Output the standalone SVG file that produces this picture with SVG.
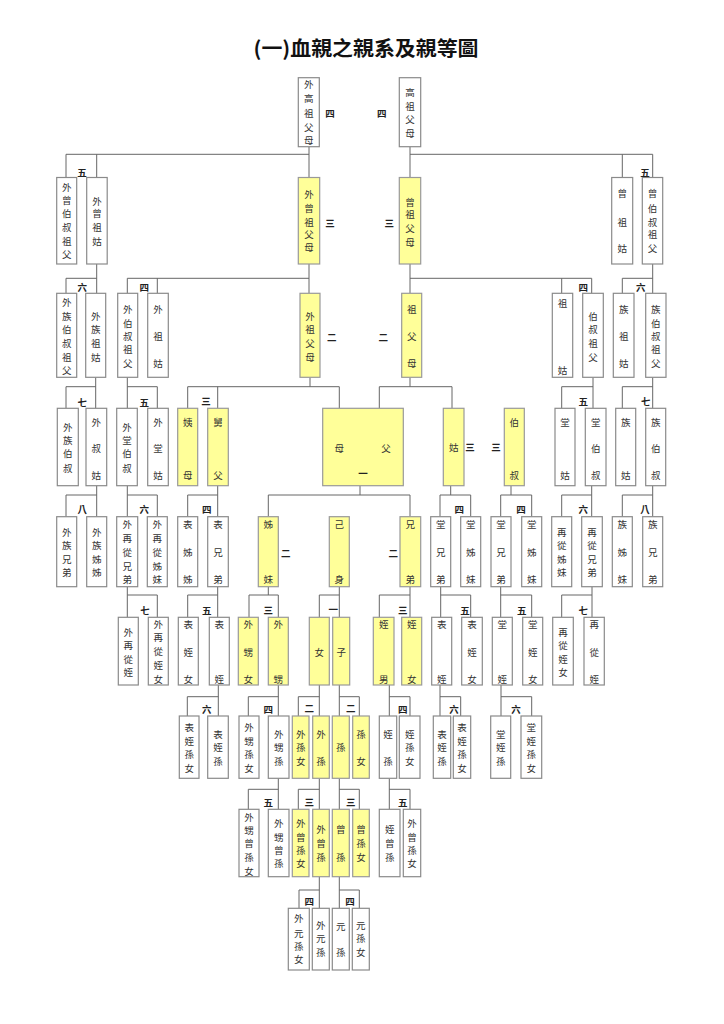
<svg xmlns="http://www.w3.org/2000/svg" width="724" height="1024" viewBox="0 0 724 1024">
<style>
.b{fill:#fff;stroke:#8a8a8a;stroke-width:1.2}
.y{fill:#ffff99;stroke:#999;stroke-width:1.2}
.t{font-family:"Noto Sans CJK TC","Noto Sans CJK SC",sans-serif;font-size:9.5px;fill:#333;text-anchor:middle;dominant-baseline:central}
.n{font-family:"Noto Sans CJK TC","Noto Sans CJK SC",sans-serif;font-size:9.5px;font-weight:bold;fill:#222;text-anchor:middle;dominant-baseline:central}
.c{stroke:#666;stroke-width:1;fill:none}
.title{font-family:"Noto Sans CJK TC","Noto Sans CJK SC",sans-serif;font-size:20px;font-weight:bold;fill:#111;text-anchor:middle;dominant-baseline:central}
</style>
<rect width="724" height="1024" fill="#fff"/>
<text class="title" x="366" y="47" textLength="225" lengthAdjust="spacingAndGlyphs">(一)血親之親系及親等圖</text>
<g id="connectors">
<path class="c" d="M309,146.7V177.5 M66,177.5V154.3H309 M96.7,154.3V177.5 M410,146.7V177.5 M410,154.3H652.7V177.5 M622.3,154.3V177.5
M96.7,264V293.3 M66,293.3V278.3H96.7 M309,264V293.3 M127.3,293.3V278.3H309 M157.3,278.3V293.3 M410,264V293.3 M410,278.3H591.7V293.3 M561.7,278.3V293.3 M652.7,264V293.3 M622.3,293.3V278.3H652.7
M95.7,377.3V408.3 M66,408.3V386.7H95.7 M127.3,377.3V408.3 M127.3,386.7H157.3V408.3 M310,377.3V386.7 M187.7,408.3V386.7H339.3V408.3 M217.7,386.7V408.3 M410,377.3V386.7 M379.3,408.3V386.7H452V408.3 M593,377.3V408.3 M561.7,408.3V386.7H593 M652.7,377.3V408.3 M622.3,408.3V386.7H652.7
M96.7,485.7V516.7 M66,516.7V495H96.7 M127.3,485.7V516.7 M127.3,495H157.3V516.7 M217.7,485.7V516.7 M187.7,516.7V495H217.7 M360,485.7V495 M268.3,516.7V495H410V516.7 M450.7,485.7V495 M440,516.7V495H470.7V516.7 M511,485.7V495 M500.7,516.7V495H531.7V516.7 M591.7,485.7V516.7 M561.7,516.7V495H591.7 M652.7,485.7V516.7 M622.3,516.7V495H652.7
M127.3,586.7V617.3 M127.3,595H157.3V617.3 M217.7,586.7V617.3 M187.7,617.3V595H217.7 M268.3,586.7V595 M249,617.3V595H278.3V617.3 M339.3,586.7V617.3 M319.3,617.3V595H339.3 M410,586.7V617.3 M379.3,617.3V595H410 M440.7,586.7V617.3 M440.7,595H470.7V617.3 M500.7,586.7V617.3 M500.7,595H531.7V617.3 M592,586.7V617.3 M561.7,617.3V595H592
M218.3,685V716 M187.3,716V696.7H218.3 M278.3,685V716 M248.3,716V696.7H278.3 M319.3,685V716 M298.3,716V696.7H319.3 M339.3,685V716 M339.3,696.7H359.3V716 M389.3,685V716 M389.3,696.7H410V716 M440,685V716 M440,696.7H460.7V716 M501,685V716 M501,696.7H531.7V716
M278.3,778.3V809.3 M248.3,809.3V789.3H278.3 M319.3,778.3V809.3 M298.3,809.3V789.3H319.3 M339.3,778.3V809.3 M339.3,789.3H359.3V809.3 M389.3,778.3V809.3 M389.3,789.3H410V809.3
M319.3,876.7V908.3 M299,908.3V890H319.3 M339.3,876.7V908.3 M339.3,890H359.3V908.3"/>
</g>
<g id="n1"><rect class="b" x="298.3" y="77.7" width="21" height="69"/><text class="t"><tspan x="308.8" y="84.3">外</tspan><tspan x="308.8" y="98.3">高</tspan><tspan x="308.8" y="112.7">祖</tspan><tspan x="308.8" y="126.7">父</tspan><tspan x="308.8" y="140">母</tspan></text></g>
<g id="n2"><rect class="b" x="399.3" y="77.7" width="21.4" height="69"/><text class="t"><tspan x="410" y="91.7">高</tspan><tspan x="410" y="106">祖</tspan><tspan x="410" y="119.3">父</tspan><tspan x="410" y="132.7">母</tspan></text></g>
<g id="n3"><rect class="b" x="56.7" y="177.5" width="20" height="86.5"/><text class="t"><tspan x="66.7" y="186.7">外</tspan><tspan x="66.7" y="200">曾</tspan><tspan x="66.7" y="213.3">伯</tspan><tspan x="66.7" y="226.7">叔</tspan><tspan x="66.7" y="241">祖</tspan><tspan x="66.7" y="254">父</tspan></text></g>
<g id="n4"><rect class="b" x="86.7" y="177.5" width="20.5" height="86.5"/><text class="t"><tspan x="96.9" y="200.7">外</tspan><tspan x="96.9" y="213.3">曾</tspan><tspan x="96.9" y="227.3">祖</tspan><tspan x="96.9" y="241">姑</tspan></text></g>
<g id="n5"><rect class="y" x="298.3" y="177.5" width="21.4" height="86.5"/><text class="t"><tspan x="309" y="194">外</tspan><tspan x="309" y="208.3">曾</tspan><tspan x="309" y="221.7">祖</tspan><tspan x="309" y="234.3">父</tspan><tspan x="309" y="246.7">母</tspan></text></g>
<g id="n6"><rect class="y" x="399.3" y="177.5" width="21.4" height="86.5"/><text class="t"><tspan x="410" y="201.7">曾</tspan><tspan x="410" y="214">祖</tspan><tspan x="410" y="228.3">父</tspan><tspan x="410" y="241.7">母</tspan></text></g>
<g id="n7"><rect class="b" x="611.7" y="177.5" width="21" height="86.5"/><text class="t"><tspan x="622.2" y="192.7">曾</tspan><tspan x="622.2" y="221.7">祖</tspan><tspan x="622.2" y="248.3">姑</tspan></text></g>
<g id="n8"><rect class="b" x="642.3" y="177.5" width="20.4" height="86.5"/><text class="t"><tspan x="652.5" y="193.3">曾</tspan><tspan x="652.5" y="208.3">伯</tspan><tspan x="652.5" y="221.7">叔</tspan><tspan x="652.5" y="234">祖</tspan><tspan x="652.5" y="248.3">父</tspan></text></g>
<g id="n9"><rect class="b" x="56.7" y="293.3" width="20" height="84"/><text class="t"><tspan x="66.7" y="302.3">外</tspan><tspan x="66.7" y="315.7">族</tspan><tspan x="66.7" y="329">伯</tspan><tspan x="66.7" y="342.7">叔</tspan><tspan x="66.7" y="356.7">祖</tspan><tspan x="66.7" y="370">父</tspan></text></g>
<g id="n10"><rect class="b" x="85.7" y="293.3" width="20" height="84"/><text class="t"><tspan x="95.7" y="316">外</tspan><tspan x="95.7" y="329.3">族</tspan><tspan x="95.7" y="342.7">祖</tspan><tspan x="95.7" y="356.7">姑</tspan></text></g>
<g id="n11"><rect class="b" x="117.7" y="293.3" width="20" height="84"/><text class="t"><tspan x="127.7" y="309.3">外</tspan><tspan x="127.7" y="322.7">伯</tspan><tspan x="127.7" y="336">叔</tspan><tspan x="127.7" y="349.3">祖</tspan><tspan x="127.7" y="363.3">父</tspan></text></g>
<g id="n12"><rect class="b" x="147.7" y="293.3" width="20.6" height="84"/><text class="t"><tspan x="158" y="309.3">外</tspan><tspan x="158" y="336">祖</tspan><tspan x="158" y="363.3">姑</tspan></text></g>
<g id="n13"><rect class="y" x="300" y="293.3" width="20" height="84"/><text class="t"><tspan x="310" y="316">外</tspan><tspan x="310" y="329.3">祖</tspan><tspan x="310" y="342.7">父</tspan><tspan x="310" y="356.7">母</tspan></text></g>
<g id="n14"><rect class="y" x="401.7" y="293.3" width="20" height="84"/><text class="t"><tspan x="411.7" y="309.3">祖</tspan><tspan x="411.7" y="336">父</tspan><tspan x="411.7" y="363.3">母</tspan></text></g>
<g id="n15"><rect class="b" x="552.3" y="293.3" width="20.4" height="84"/><text class="t"><tspan x="562.5" y="302.7">祖</tspan><tspan x="562.5" y="370">姑</tspan></text></g>
<g id="n16"><rect class="b" x="582.7" y="293.3" width="20.6" height="84"/><text class="t"><tspan x="593" y="316">伯</tspan><tspan x="593" y="329.3">叔</tspan><tspan x="593" y="342.7">祖</tspan><tspan x="593" y="356.7">父</tspan></text></g>
<g id="n17"><rect class="b" x="613.3" y="293.3" width="20.7" height="84"/><text class="t"><tspan x="623.7" y="309.3">族</tspan><tspan x="623.7" y="336">祖</tspan><tspan x="623.7" y="363.3">姑</tspan></text></g>
<g id="n18"><rect class="b" x="645.7" y="293.3" width="20.3" height="84"/><text class="t"><tspan x="655.8" y="309.3">族</tspan><tspan x="655.8" y="322.7">伯</tspan><tspan x="655.8" y="336">叔</tspan><tspan x="655.8" y="349.3">祖</tspan><tspan x="655.8" y="363.3">父</tspan></text></g>
<g id="n19"><rect class="b" x="57.3" y="408.3" width="21" height="77.4"/><text class="t"><tspan x="67.8" y="426.7">外</tspan><tspan x="67.8" y="440">族</tspan><tspan x="67.8" y="453.3">伯</tspan><tspan x="67.8" y="467.7">叔</tspan></text></g>
<g id="n20"><rect class="b" x="86" y="408.3" width="20.7" height="77.4"/><text class="t"><tspan x="96.3" y="421.7">外</tspan><tspan x="96.3" y="448.3">叔</tspan><tspan x="96.3" y="475">姑</tspan></text></g>
<g id="n21"><rect class="b" x="116.7" y="408.3" width="20.6" height="77.4"/><text class="t"><tspan x="127" y="426.7">外</tspan><tspan x="127" y="440">堂</tspan><tspan x="127" y="453.3">伯</tspan><tspan x="127" y="467.7">叔</tspan></text></g>
<g id="n22"><rect class="b" x="147.7" y="408.3" width="20.6" height="77.4"/><text class="t"><tspan x="158" y="421.7">外</tspan><tspan x="158" y="448.3">堂</tspan><tspan x="158" y="475">姑</tspan></text></g>
<g id="n23"><rect class="y" x="177.7" y="408.3" width="20" height="77.4"/><text class="t"><tspan x="187.7" y="421.7">姨</tspan><tspan x="187.7" y="475">母</tspan></text></g>
<g id="n24"><rect class="y" x="207.7" y="408.3" width="20.6" height="77.4"/><text class="t"><tspan x="218" y="421.7">舅</tspan><tspan x="218" y="475">父</tspan></text></g>
<g id="n25"><rect class="y" x="322.7" y="408.3" width="80.6" height="77.4"/><text class="t"><tspan x="339.3" y="447.7">母</tspan><tspan x="386" y="447.7">父</tspan></text></g>
<g id="n26"><rect class="y" x="443.3" y="408.3" width="20.7" height="77.4"/><text class="t"><tspan x="453.7" y="447.3">姑</tspan></text></g>
<g id="n27"><rect class="y" x="504.3" y="408.3" width="20" height="77.4"/><text class="t"><tspan x="514.3" y="421.7">伯</tspan><tspan x="514.3" y="475">叔</tspan></text></g>
<g id="n28"><rect class="b" x="555" y="408.3" width="20" height="77.4"/><text class="t"><tspan x="565" y="421.7">堂</tspan><tspan x="565" y="475">姑</tspan></text></g>
<g id="n29"><rect class="b" x="585.3" y="408.3" width="20.7" height="77.4"/><text class="t"><tspan x="595.7" y="421.7">堂</tspan><tspan x="595.7" y="448.3">伯</tspan><tspan x="595.7" y="475">叔</tspan></text></g>
<g id="n30"><rect class="b" x="615.7" y="408.3" width="20" height="77.4"/><text class="t"><tspan x="625.7" y="421.7">族</tspan><tspan x="625.7" y="475">姑</tspan></text></g>
<g id="n31"><rect class="b" x="645.7" y="408.3" width="20" height="77.4"/><text class="t"><tspan x="655.7" y="421.7">族</tspan><tspan x="655.7" y="448.3">伯</tspan><tspan x="655.7" y="475">叔</tspan></text></g>
<g id="n32"><rect class="b" x="56.7" y="516.7" width="20" height="70"/><text class="t"><tspan x="66.7" y="531.7">外</tspan><tspan x="66.7" y="545">族</tspan><tspan x="66.7" y="559">兄</tspan><tspan x="66.7" y="572.3">弟</tspan></text></g>
<g id="n33"><rect class="b" x="86.7" y="516.7" width="20" height="70"/><text class="t"><tspan x="96.7" y="531.7">外</tspan><tspan x="96.7" y="545">族</tspan><tspan x="96.7" y="559">姊</tspan><tspan x="96.7" y="572.3">姊</tspan></text></g>
<g id="n34"><rect class="b" x="116.7" y="516.7" width="21" height="70"/><text class="t"><tspan x="127.2" y="524">外</tspan><tspan x="127.2" y="538.3">再</tspan><tspan x="127.2" y="551.7">從</tspan><tspan x="127.2" y="565.7">兄</tspan><tspan x="127.2" y="579">弟</tspan></text></g>
<g id="n35"><rect class="b" x="147.3" y="516.7" width="20" height="70"/><text class="t"><tspan x="157.3" y="524">外</tspan><tspan x="157.3" y="538.3">再</tspan><tspan x="157.3" y="551.7">從</tspan><tspan x="157.3" y="565.7">姊</tspan><tspan x="157.3" y="579">妹</tspan></text></g>
<g id="n36"><rect class="b" x="177.7" y="516.7" width="20" height="70"/><text class="t"><tspan x="187.7" y="524">表</tspan><tspan x="187.7" y="551.7">姊</tspan><tspan x="187.7" y="579">姊</tspan></text></g>
<g id="n37"><rect class="b" x="207.7" y="516.7" width="20.6" height="70"/><text class="t"><tspan x="218" y="524">表</tspan><tspan x="218" y="551.7">兄</tspan><tspan x="218" y="579">弟</tspan></text></g>
<g id="n38"><rect class="y" x="258.3" y="516.7" width="20" height="70"/><text class="t"><tspan x="268.3" y="524">姊</tspan><tspan x="268.3" y="579">妹</tspan></text></g>
<g id="n39"><rect class="y" x="329.3" y="516.7" width="20" height="70"/><text class="t"><tspan x="339.3" y="524">己</tspan><tspan x="339.3" y="579">身</tspan></text></g>
<g id="n40"><rect class="y" x="400" y="516.7" width="20.7" height="70"/><text class="t"><tspan x="410.3" y="524">兄</tspan><tspan x="410.3" y="579">弟</tspan></text></g>
<g id="n41"><rect class="b" x="430.7" y="516.7" width="20" height="70"/><text class="t"><tspan x="440.7" y="524">堂</tspan><tspan x="440.7" y="551.7">兄</tspan><tspan x="440.7" y="579">弟</tspan></text></g>
<g id="n42"><rect class="b" x="460.7" y="516.7" width="20" height="70"/><text class="t"><tspan x="470.7" y="524">堂</tspan><tspan x="470.7" y="551.7">姊</tspan><tspan x="470.7" y="579">妹</tspan></text></g>
<g id="n43"><rect class="b" x="491" y="516.7" width="20" height="70"/><text class="t"><tspan x="501" y="524">堂</tspan><tspan x="501" y="551.7">兄</tspan><tspan x="501" y="579">弟</tspan></text></g>
<g id="n44"><rect class="b" x="521.7" y="516.7" width="20" height="70"/><text class="t"><tspan x="531.7" y="524">堂</tspan><tspan x="531.7" y="551.7">姊</tspan><tspan x="531.7" y="579">妹</tspan></text></g>
<g id="n45"><rect class="b" x="551.7" y="516.7" width="20" height="70"/><text class="t"><tspan x="561.7" y="531.7">再</tspan><tspan x="561.7" y="545">從</tspan><tspan x="561.7" y="559">姊</tspan><tspan x="561.7" y="572.3">妹</tspan></text></g>
<g id="n46"><rect class="b" x="581.7" y="516.7" width="20.6" height="70"/><text class="t"><tspan x="592" y="531.7">再</tspan><tspan x="592" y="545">從</tspan><tspan x="592" y="559">兄</tspan><tspan x="592" y="572.3">弟</tspan></text></g>
<g id="n47"><rect class="b" x="612.3" y="516.7" width="20" height="70"/><text class="t"><tspan x="622.3" y="524">族</tspan><tspan x="622.3" y="551.7">姊</tspan><tspan x="622.3" y="579">妹</tspan></text></g>
<g id="n48"><rect class="b" x="642.7" y="516.7" width="20" height="70"/><text class="t"><tspan x="652.7" y="524">族</tspan><tspan x="652.7" y="551.7">兄</tspan><tspan x="652.7" y="579">弟</tspan></text></g>
<g id="n49"><rect class="b" x="118.3" y="617.3" width="20" height="67.7"/><text class="t"><tspan x="128.3" y="631.7">外</tspan><tspan x="128.3" y="645">再</tspan><tspan x="128.3" y="659">從</tspan><tspan x="128.3" y="672.3">姪</tspan></text></g>
<g id="n50"><rect class="b" x="148.3" y="617.3" width="20" height="67.7"/><text class="t"><tspan x="158.3" y="624">外</tspan><tspan x="158.3" y="637.3">再</tspan><tspan x="158.3" y="651">從</tspan><tspan x="158.3" y="665">姪</tspan><tspan x="158.3" y="679">女</tspan></text></g>
<g id="n51"><rect class="b" x="178.3" y="617.3" width="20" height="67.7"/><text class="t"><tspan x="188.3" y="624">表</tspan><tspan x="188.3" y="651.7">姪</tspan><tspan x="188.3" y="679">女</tspan></text></g>
<g id="n52"><rect class="b" x="209.3" y="617.3" width="20" height="67.7"/><text class="t"><tspan x="219.3" y="624">表</tspan><tspan x="219.3" y="679">姪</tspan></text></g>
<g id="n53"><rect class="y" x="238.3" y="617.3" width="20" height="67.7"/><text class="t"><tspan x="248.3" y="624">外</tspan><tspan x="248.3" y="651.7">甥</tspan><tspan x="248.3" y="679">女</tspan></text></g>
<g id="n54"><rect class="y" x="268.3" y="617.3" width="20" height="67.7"/><text class="t"><tspan x="278.3" y="624">外</tspan><tspan x="278.3" y="679">甥</tspan></text></g>
<g id="n55"><rect class="y" x="309.3" y="617.3" width="20" height="67.7"/><text class="t"><tspan x="319.3" y="651.7">女</tspan></text></g>
<g id="n56"><rect class="y" x="332.7" y="617.3" width="17" height="67.7"/><text class="t"><tspan x="341.2" y="651.7">子</tspan></text></g>
<g id="n57"><rect class="y" x="373.3" y="617.3" width="20.7" height="67.7"/><text class="t"><tspan x="383.7" y="624">姪</tspan><tspan x="383.7" y="679">男</tspan></text></g>
<g id="n58"><rect class="y" x="401.7" y="617.3" width="20" height="67.7"/><text class="t"><tspan x="411.7" y="624">姪</tspan><tspan x="411.7" y="679">女</tspan></text></g>
<g id="n59"><rect class="b" x="431.7" y="617.3" width="20" height="67.7"/><text class="t"><tspan x="441.7" y="624">表</tspan><tspan x="441.7" y="679">姪</tspan></text></g>
<g id="n60"><rect class="b" x="461.7" y="617.3" width="20.6" height="67.7"/><text class="t"><tspan x="472" y="624">表</tspan><tspan x="472" y="651.7">姪</tspan><tspan x="472" y="679">女</tspan></text></g>
<g id="n61"><rect class="b" x="492.3" y="617.3" width="20" height="67.7"/><text class="t"><tspan x="502.3" y="624">堂</tspan><tspan x="502.3" y="679">姪</tspan></text></g>
<g id="n62"><rect class="b" x="522.7" y="617.3" width="20" height="67.7"/><text class="t"><tspan x="532.7" y="624">堂</tspan><tspan x="532.7" y="651.7">姪</tspan><tspan x="532.7" y="679">女</tspan></text></g>
<g id="n63"><rect class="b" x="552.7" y="617.3" width="20.6" height="67.7"/><text class="t"><tspan x="563" y="631.7">再</tspan><tspan x="563" y="645">從</tspan><tspan x="563" y="659">姪</tspan><tspan x="563" y="672.3">女</tspan></text></g>
<g id="n64"><rect class="b" x="584" y="617.3" width="20.3" height="67.7"/><text class="t"><tspan x="594.2" y="624">再</tspan><tspan x="594.2" y="651.7">從</tspan><tspan x="594.2" y="679">姪</tspan></text></g>
<g id="n65"><rect class="b" x="179.3" y="716" width="19.7" height="62.3"/><text class="t"><tspan x="189.2" y="726.7">表</tspan><tspan x="189.2" y="740.7">姪</tspan><tspan x="189.2" y="754">孫</tspan><tspan x="189.2" y="768.3">女</tspan></text></g>
<g id="n66"><rect class="b" x="207.7" y="716" width="20.6" height="62.3"/><text class="t"><tspan x="218" y="734">表</tspan><tspan x="218" y="747.3">姪</tspan><tspan x="218" y="760.7">孫</tspan></text></g>
<g id="n67"><rect class="b" x="239" y="716" width="20" height="62.3"/><text class="t"><tspan x="249" y="726.7">外</tspan><tspan x="249" y="740.7">甥</tspan><tspan x="249" y="754">孫</tspan><tspan x="249" y="768.3">女</tspan></text></g>
<g id="n68"><rect class="b" x="268.3" y="716" width="20.7" height="62.3"/><text class="t"><tspan x="278.7" y="734">外</tspan><tspan x="278.7" y="747.3">甥</tspan><tspan x="278.7" y="760.7">孫</tspan></text></g>
<g id="n69"><rect class="y" x="292.3" y="716" width="16.7" height="62.3"/><text class="t"><tspan x="300.7" y="734">外</tspan><tspan x="300.7" y="747.3">孫</tspan><tspan x="300.7" y="760.7">女</tspan></text></g>
<g id="n70"><rect class="y" x="312.7" y="716" width="16.6" height="62.3"/><text class="t"><tspan x="321" y="734">外</tspan><tspan x="321" y="760.7">孫</tspan></text></g>
<g id="n71"><rect class="y" x="332.3" y="716" width="17" height="62.3"/><text class="t"><tspan x="340.8" y="747.3">孫</tspan></text></g>
<g id="n72"><rect class="y" x="352.7" y="716" width="16.6" height="62.3"/><text class="t"><tspan x="361" y="734">孫</tspan><tspan x="361" y="760.7">女</tspan></text></g>
<g id="n73"><rect class="b" x="379.3" y="716" width="17.4" height="62.3"/><text class="t"><tspan x="388" y="734">姪</tspan><tspan x="388" y="760.7">孫</tspan></text></g>
<g id="n74"><rect class="b" x="399.3" y="716" width="20.7" height="62.3"/><text class="t"><tspan x="409.7" y="734">姪</tspan><tspan x="409.7" y="747.3">孫</tspan><tspan x="409.7" y="760.7">女</tspan></text></g>
<g id="n75"><rect class="b" x="433.3" y="716" width="17.4" height="62.3"/><text class="t"><tspan x="442" y="734">表</tspan><tspan x="442" y="747.3">姪</tspan><tspan x="442" y="760.7">孫</tspan></text></g>
<g id="n76"><rect class="b" x="453.3" y="716" width="17.4" height="62.3"/><text class="t"><tspan x="462" y="726.7">表</tspan><tspan x="462" y="740.7">姪</tspan><tspan x="462" y="754">孫</tspan><tspan x="462" y="768.3">女</tspan></text></g>
<g id="n77"><rect class="b" x="490.7" y="716" width="20" height="62.3"/><text class="t"><tspan x="500.7" y="734">堂</tspan><tspan x="500.7" y="747.3">姪</tspan><tspan x="500.7" y="760.7">孫</tspan></text></g>
<g id="n78"><rect class="b" x="521" y="716" width="20.7" height="62.3"/><text class="t"><tspan x="531.3" y="726.7">堂</tspan><tspan x="531.3" y="740.7">姪</tspan><tspan x="531.3" y="754">孫</tspan><tspan x="531.3" y="768.3">女</tspan></text></g>
<g id="n79"><rect class="b" x="239" y="809.3" width="20" height="67.4"/><text class="t"><tspan x="249" y="816.7">外</tspan><tspan x="249" y="830">甥</tspan><tspan x="249" y="843.3">曾</tspan><tspan x="249" y="856.7">孫</tspan><tspan x="249" y="870.7">女</tspan></text></g>
<g id="n80"><rect class="b" x="268.3" y="809.3" width="20.7" height="67.4"/><text class="t"><tspan x="278.7" y="823.3">外</tspan><tspan x="278.7" y="836.7">甥</tspan><tspan x="278.7" y="850">曾</tspan><tspan x="278.7" y="863.3">孫</tspan></text></g>
<g id="n81"><rect class="y" x="292.3" y="809.3" width="16.7" height="67.4"/><text class="t"><tspan x="300.7" y="823.3">外</tspan><tspan x="300.7" y="836.7">曾</tspan><tspan x="300.7" y="850">孫</tspan><tspan x="300.7" y="863.3">女</tspan></text></g>
<g id="n82"><rect class="y" x="312.7" y="809.3" width="16.6" height="67.4"/><text class="t"><tspan x="321" y="829.3">外</tspan><tspan x="321" y="843.3">曾</tspan><tspan x="321" y="856.7">孫</tspan></text></g>
<g id="n83"><rect class="y" x="332.3" y="809.3" width="17" height="67.4"/><text class="t"><tspan x="340.8" y="829.3">曾</tspan><tspan x="340.8" y="856.7">孫</tspan></text></g>
<g id="n84"><rect class="y" x="352.7" y="809.3" width="16.6" height="67.4"/><text class="t"><tspan x="361" y="829.3">曾</tspan><tspan x="361" y="843.3">孫</tspan><tspan x="361" y="856.7">女</tspan></text></g>
<g id="n85"><rect class="b" x="379.3" y="809.3" width="20.7" height="67.4"/><text class="t"><tspan x="389.7" y="829.3">姪</tspan><tspan x="389.7" y="843.3">曾</tspan><tspan x="389.7" y="856.7">孫</tspan></text></g>
<g id="n86"><rect class="b" x="403.3" y="809.3" width="17.4" height="67.4"/><text class="t"><tspan x="412" y="823.3">外</tspan><tspan x="412" y="836.7">曾</tspan><tspan x="412" y="850">孫</tspan><tspan x="412" y="863.3">女</tspan></text></g>
<g id="n87"><rect class="b" x="288.3" y="908.3" width="21" height="61.7"/><text class="t"><tspan x="298.8" y="918.3">外</tspan><tspan x="298.8" y="932.7">元</tspan><tspan x="298.8" y="946">孫</tspan><tspan x="298.8" y="959.3">女</tspan></text></g>
<g id="n88"><rect class="b" x="312.3" y="908.3" width="17" height="61.7"/><text class="t"><tspan x="320.8" y="925">外</tspan><tspan x="320.8" y="938.3">元</tspan><tspan x="320.8" y="951.7">孫</tspan></text></g>
<g id="n89"><rect class="b" x="332.3" y="908.3" width="17" height="61.7"/><text class="t"><tspan x="340.8" y="926">元</tspan><tspan x="340.8" y="951.7">孫</tspan></text></g>
<g id="n90"><rect class="b" x="352.3" y="908.3" width="17" height="61.7"/><text class="t"><tspan x="360.8" y="925">元</tspan><tspan x="360.8" y="938.3">孫</tspan><tspan x="360.8" y="951.7">女</tspan></text></g>
<g id="degrees">
<text class="n" x="330" y="112.7">四</text><text class="n" x="381.7" y="112.7">四</text>
<text class="n" x="82" y="171.7">五</text><text class="n" x="645" y="171.7">五</text><text class="n" x="330" y="223">三</text><text class="n" x="389.3" y="223">三</text>
<text class="n" x="82.3" y="286.7">六</text><text class="n" x="144.3" y="286.7">四</text><text class="n" x="331.7" y="337.3">二</text><text class="n" x="383.3" y="337.3">二</text><text class="n" x="583.3" y="286.7">四</text><text class="n" x="640.7" y="286.7">六</text>
<text class="n" x="82.3" y="401.7">七</text><text class="n" x="144.3" y="401.7">五</text><text class="n" x="206" y="400.7">三</text><text class="n" x="470" y="447.3">三</text><text class="n" x="496" y="447.3">三</text><text class="n" x="583.3" y="400.7">五</text><text class="n" x="645.7" y="400.7">七</text><text class="n" x="363" y="473.3">一</text>
<text class="n" x="82.3" y="509.3">八</text><text class="n" x="144.3" y="509.3">六</text><text class="n" x="206.7" y="509.3">四</text><text class="n" x="285.7" y="552.7">二</text><text class="n" x="393.3" y="552.7">二</text><text class="n" x="459.3" y="509.3">四</text><text class="n" x="521" y="509.3">四</text><text class="n" x="583.3" y="509.3">六</text><text class="n" x="645" y="509.3">八</text>
<text class="n" x="145" y="610">七</text><text class="n" x="206.7" y="610">五</text><text class="n" x="268.3" y="610">三</text><text class="n" x="333.3" y="609.3">一</text><text class="n" x="402.7" y="610">三</text><text class="n" x="465" y="610">五</text><text class="n" x="521.7" y="610">五</text><text class="n" x="583.3" y="610">七</text>
<text class="n" x="206.7" y="709.3">六</text><text class="n" x="268.3" y="709.3">四</text><text class="n" x="309.3" y="708.3">二</text><text class="n" x="350.7" y="708.3">二</text><text class="n" x="402.7" y="709.3">四</text><text class="n" x="454" y="709.3">六</text><text class="n" x="516" y="709.3">六</text>
<text class="n" x="268.3" y="801.7">五</text><text class="n" x="309.3" y="801.7">三</text><text class="n" x="350.7" y="801.7">三</text><text class="n" x="402.7" y="801.7">五</text>
<text class="n" x="309.3" y="900.7">四</text><text class="n" x="350" y="900.7">四</text>
</g>
</svg>
